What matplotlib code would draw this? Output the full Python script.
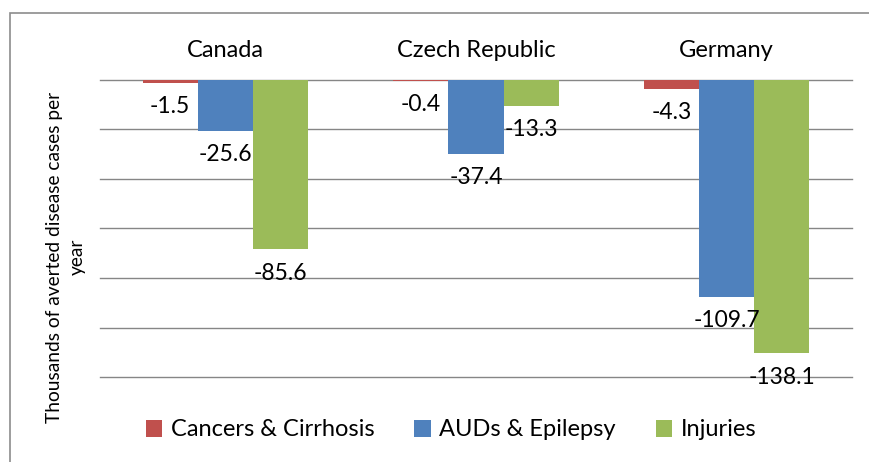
import matplotlib.pyplot as plt
import numpy as np
from matplotlib.patches import Patch, Rectangle


COUNTRIES = ["Canada", "Czech Republic", "Germany"]
SERIES = ["Cancers & Cirrhosis", "AUDs & Epilepsy", "Injuries"]
CANCERS = [-1.5, -0.4, -4.3]
AUDS = [-25.6, -37.4, -109.7]
INJURIES = [-85.6, -13.3, -138.1]
COLORS = ["#C0504D", "#4F81BD", "#9BBB59"]
Y_TICKS = [0, -25, -50, -75, -100, -125, -150]

FONT = ["Lato", "DejaVu Sans"]


def main():
    plt.rcParams["font.family"] = FONT

    fig = plt.figure(figsize=(8.69, 4.62), dpi=100)
    ax = fig.add_axes([100 / 869, 85 / 462, 752 / 869, 297 / 462])

    x = np.arange(len(COUNTRIES))
    width = 0.22
    offsets = [-width, 0, width]

    for values, offset, color in zip([CANCERS, AUDS, INJURIES], offsets, COLORS):
        bars = ax.bar(x + offset, values, width=width, color=color, zorder=3)
        for bar, value in zip(bars, values):
            ax.annotate(f"{value:.1f}",
                        xy=(bar.get_x() + bar.get_width() / 2, value),
                        xytext=(0, -17), textcoords="offset points",
                        ha="center", va="center", fontsize=16.5, zorder=4)

    ax.set_xlim(-0.5, 2.5)
    ax.set_ylim(-150, 0)
    ax.set_yticks(Y_TICKS)
    ax.set_yticklabels([])
    ax.tick_params(axis="y", length=0)
    ax.yaxis.grid(True, color="#868686", linewidth=1, zorder=0)
    for line in ax.get_ygridlines():
        line.set_clip_on(False)
    ax.set_axisbelow(True)

    ax.xaxis.tick_top()
    ax.set_xticks(x)
    ax.set_xticklabels(COUNTRIES, fontsize=17)
    ax.tick_params(axis="x", length=0, pad=14)

    for spine in ax.spines.values():
        spine.set_visible(False)

    fig.text(66 / 869, 1 - 257 / 462,
             "Thousands of averted disease cases per\nyear",
             rotation=90, ha="center", va="center", fontsize=13.8,
             multialignment="center", linespacing=1.45)

    handles = [Patch(facecolor=c, edgecolor="none") for c in COLORS]
    fig.legend(handles, SERIES, loc="center", bbox_to_anchor=(451 / 869, 1 - 430 / 462),
               ncol=3, frameon=False, fontsize=17, handlelength=0.7, handleheight=0.7,
               handletextpad=0.35, columnspacing=1.7)

    fig.patches.append(Rectangle((10 / 869, -0.05), 1.0, 1 - 13 / 462 + 0.05,
                                 transform=fig.transFigure, fill=False,
                                 edgecolor="#8c8c8c", linewidth=1.2))

    fig.savefig("out.png", dpi=100)


if __name__ == "__main__":
    main()
